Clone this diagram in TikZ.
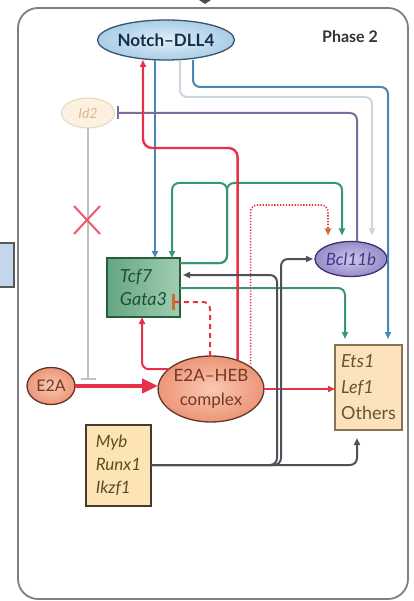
\documentclass[tikz,border=0pt]{standalone}
\usepackage{fontspec}
\setmainfont{Lato}
\usepackage{tikz}
\usetikzlibrary{arrows.meta}
\usetikzlibrary{shapes.geometric}

\definecolor{framegray}{RGB}{128,126,126}
\definecolor{sidebox}{RGB}{196,214,236}
\definecolor{notchfill}{RGB}{170,206,230}
\definecolor{notchin}{RGB}{222,238,248}
\definecolor{notchedge}{RGB}{52,84,112}
\definecolor{notchtext}{RGB}{24,44,74}
\definecolor{idfill}{RGB}{252,240,224}
\definecolor{idedge}{RGB}{232,212,186}
\definecolor{idtext}{RGB}{218,184,140}
\definecolor{tcfleft}{RGB}{100,166,130}
\definecolor{tcfright}{RGB}{160,206,176}
\definecolor{tcfedge}{RGB}{40,92,64}
\definecolor{tcftext}{RGB}{30,80,56}
\definecolor{bclfill}{RGB}{150,140,200}
\definecolor{bclin}{RGB}{206,198,236}
\definecolor{bcledge}{RGB}{62,48,112}
\definecolor{bcltext}{RGB}{70,56,138}
\definecolor{etsfill}{RGB}{252,226,186}
\definecolor{etsedge}{RGB}{138,114,82}
\definecolor{etstext}{RGB}{100,86,50}
\definecolor{efill}{RGB}{236,150,120}
\definecolor{ein}{RGB}{250,200,178}
\definecolor{eedge}{RGB}{96,54,40}
\definecolor{etext}{RGB}{118,56,38}
\definecolor{mybfill}{RGB}{252,228,180}
\definecolor{mybedge}{RGB}{72,58,42}
\definecolor{mybtext}{RGB}{94,76,38}
\definecolor{linkred}{RGB}{230,50,72}
\definecolor{linkblue}{RGB}{74,134,180}
\definecolor{linkpale}{RGB}{202,214,224}
\definecolor{linkpurple}{RGB}{124,110,156}
\definecolor{linkgreen}{RGB}{56,150,116}
\definecolor{linkgray}{RGB}{76,82,88}
\definecolor{idline}{RGB}{192,192,192}
\definecolor{barorange}{RGB}{200,110,50}

\begin{document}
\begin{tikzpicture}[x=1pt,y=1pt,yscale=-1,xscale=1,
  oval/.style={ellipse, draw, line width=1.3pt, inner sep=0pt, outer sep=0pt},
  genebox/.style={rectangle, draw, line width=1.3pt, inner sep=3pt, outer sep=0pt, align=left},
  link/.style={line width=2pt, rounded corners=7pt},
  act/.style={link, -{Triangle[length=7pt,width=6pt]}},
  inh/.style={link, -{Bar[width=13pt,line width=2pt]}}
]
\useasboundingbox (0,0) rectangle (414,601);

%Shape: Rounded Rectangle (panel)
\draw[framegray, line width=1.8pt, rounded corners=20pt] (18,8) rectangle (408,599);
%Shape: Rectangle (edge of the panel beside)
\draw[black!65, line width=1.2pt, fill=sidebox] (-4,243) rectangle (14,287);
%Shape: Triangle (tip at the top)
\fill[black!70] (199,0) -- (211,0) -- (205,4) -- cycle;

% Text Node
\node[font=\bfseries\fontsize{16}{18}\selectfont, text=black!80] (phase) at (350,37) {Phase 2};

%Shape: Ellipse
\node[oval, minimum width=132, minimum height=40, draw=notchedge, inner color=notchin, outer color=notchfill,
  font=\bfseries\fontsize{17}{19}\selectfont, text=notchtext] (ndll) at (166,40) {Notch–DLL4};
%Shape: Ellipse
\node[oval, minimum width=53, minimum height=30, draw=idedge, fill=idfill, line width=1pt,
  font=\itshape\fontsize{14}{16}\selectfont, text=idtext] (idtwo) at (88,113) {Id2};
%Shape: Rectangle
\node[genebox, minimum width=73, minimum height=59, draw=tcfedge, left color=tcfleft, right color=tcfright,
  font=\itshape\fontsize{18}{23}\selectfont, text=tcftext] (tcf) at (143.5,287.5) {Tcf7\\Gata3};
%Shape: Ellipse
\node[oval, minimum width=72, minimum height=35, draw=bcledge, inner color=bclin, outer color=bclfill,
  font=\itshape\fontsize{17}{19}\selectfont, text=bcltext] (bcl) at (351,259) {Bcl11b};
%Shape: Rectangle
\node[genebox, minimum width=67, minimum height=85, draw=etsedge, fill=etsfill,
  font=\fontsize{18}{26}\selectfont, text=etstext] (ets) at (368.5,387.5) {\textit{Ets1}\\\textit{Lef1}\\Others};
%Shape: Ellipse
\node[oval, minimum width=48, minimum height=37, draw=eedge, inner color=ein, outer color=efill,
  font=\fontsize{16}{18}\selectfont, text=etext] (etwoa) at (51,386) {E2A};
%Shape: Ellipse
\node[oval, minimum width=102, minimum height=66, draw=eedge, inner color=ein, outer color=efill,
  font=\fontsize{17}{24}\selectfont, text=etext, align=center] (ehc) at (211,389) {E2A–HEB\\complex};
%Shape: Rectangle
\node[genebox, minimum width=65, minimum height=81, draw=mybedge, fill=mybfill,
  font=\itshape\fontsize{17}{23}\selectfont, text=mybtext] (myb) at (118.5,465.5) {Myb\\Runx1\\Ikzf1};

\coordinate (ebar) at (88,380);
\coordinate (gbar) at (172,302);

%Straight Lines (Id2 block on E2A)
\draw[idline, line width=1.6pt, -{Bar[width=15pt,line width=1.6pt]}] (idtwo.south) -- (ebar);
%Straight Lines (cross)
\draw[linkred!80, line width=2pt] (74,206) -- (100,234) (74,234) -- (100,206);

%Lines out of Notch-DLL4
\draw[act, linkblue] (ndll.south -| 155,0) -- (tcf.north -| 155,0);
\draw[act, linkpale] (ndll.south -| 180,0) |- (372,97) -- ([yshift=-6pt]bcl.north -| 372,0);
\draw[act, linkblue, shorten >=6pt] (ndll.south -| 193,0) |- (388,87) -- (ets.north -| 388,0);
%Bcl11b blocks Id2
\draw[inh, linkpurple] (bcl.north -| 357,0) |- ([xshift=2pt]idtwo.east);

%Tcf7 loop and branch
\draw[act, linkgreen] (tcf.east |- 0,263) -| (227,183) -| (tcf.north -| 172,0);
\draw[act, linkgreen, shorten >=6pt] (tcf.east |- 0,263) -| (227,183) -| (bcl.north -| 342,0);
\draw[act, linkgreen, shorten >=6pt] (tcf.east |- 0,288) -| (ets.north -| 345,0);

%Lines out of E2A-HEB
\draw[act, linkred, line width=2.4pt, rounded corners=9pt] (ehc.47) |- (143,148) -- (ndll.south -| 143,0);
\draw[act, linkred] (ehc.155) -| (tcf.south -| 142,0);
\draw[link, linkred, dashed, dash pattern=on 5pt off 4pt, -{Bar[width=16pt,line width=2.5pt,color=barorange]}]
  (ehc.north -| 210,0) |- (gbar);
\draw[link, linkred, line width=1.6pt, dash pattern=on 1.3pt off 1.6pt,
  -{Triangle[length=7pt,width=6pt,color=barorange]}, shorten >=6pt] (ehc.29) |- (328,205) -- (bcl.north -| 328,0);
\draw[act, linkred] (ehc.east) -- (ehc.east -| ets.west);
\draw[linkred, line width=4.5pt, -{Triangle[length=16pt,width=14pt]}] (etwoa.east) -- (ehc.west |- etwoa.east);

%Lines out of Myb box
\draw[act, linkgray, shorten >=8pt] (myb.east |- 0,465) -| (ets.south -| 357,0);
\draw[act, linkgray, shorten >=3pt] (myb.east |- 0,465) -| (277,275) -- (tcf.east |- 0,275);
\draw[act, linkgray, shorten >=2pt] (myb.east |- 0,465) -| (281,300) |- (bcl.west);

\end{tikzpicture}
\end{document}
